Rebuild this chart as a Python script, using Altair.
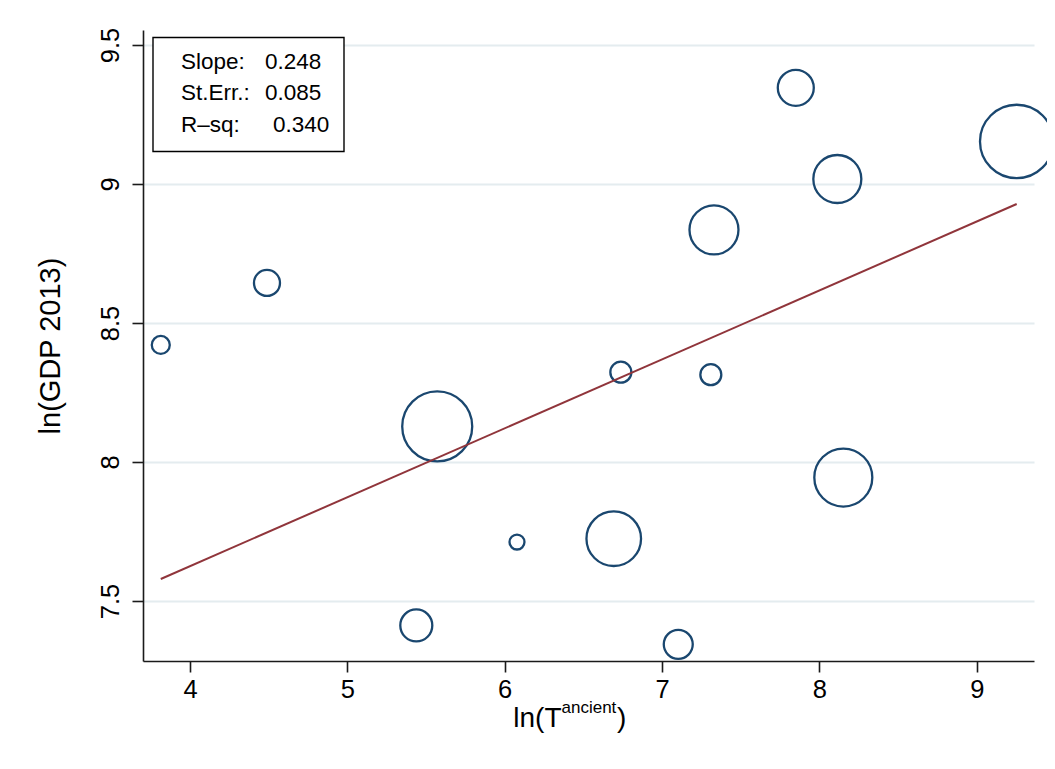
import altair as alt
import pandas as pd

# ---- data ----
ln_t = [3.814, 4.489, 5.571, 6.078, 5.438, 6.693, 6.738, 7.103, 7.310, 7.330, 7.850, 8.114, 8.152, 9.254]
ln_gdp = [8.421, 8.644, 8.128, 7.712, 7.412, 7.724, 8.323, 7.344, 8.314, 8.835, 9.346, 9.018, 7.944, 9.153]
weight = [81, 169, 1225, 56, 256, 745, 110, 210, 110, 600, 324, 576, 841, 1347]
fit_x = [3.814, 9.254]
fit_y = [7.579, 8.928]
x_ticks = [4, 5, 6, 7, 8, 9]
y_ticks = [7.5, 8, 8.5, 9, 9.5]
stat_labels = ["Slope:", "St.Err.:", "R\u2013sq:"]
stat_values = ["0.248", "0.085", "0.340"]

FONT = "Liberation Sans"
NAVY = "#1a476f"
MAROON = "#90353b"
W, H = 891, 631

pts_df = pd.DataFrame({"ln_t": ln_t, "ln_gdp": ln_gdp, "weight": weight})
fit_df = pd.DataFrame({"ln_t": fit_x, "ln_gdp": fit_y})

xs = alt.Scale(domain=[3.701, 9.364], nice=False, zero=False)
ys = alt.Scale(domain=[7.284, 9.554], nice=False, zero=False)

X = alt.X("ln_t:Q", scale=xs, axis=alt.Axis(
    values=x_ticks, title=None, grid=False, tickSize=11, labelPadding=5,
    labelFontSize=25.5, format="d"))
Y = alt.Y("ln_gdp:Q", scale=ys, axis=alt.Axis(
    values=y_ticks, title="ln(GDP 2013)", grid=True, tickSize=11,
    labelPadding=14, labelFontSize=25.5, labelAngle=270, labelAlign="center",
    labelBaseline="alphabetic", format="~g",
    titleFontSize=29, titleFontWeight="normal", titleAngle=270,
    titleAlign="center", titleBaseline="alphabetic", titleX=-84, titleY=H / 2))

points = alt.Chart(pts_df).mark_point(
    shape="circle", filled=False, color=NAVY, strokeWidth=2.3, opacity=1
).encode(
    x=X, y=Y,
    size=alt.Size("weight:Q", scale=alt.Scale(domain=[0, 1500], range=[0, 6000]), legend=None),
)

fit = alt.Chart(fit_df).mark_line(color=MAROON, strokeWidth=2).encode(x=X, y=Y)

one = pd.DataFrame({"k": [0]})

# stats box
box = alt.Chart(one).mark_rect(fill="white", stroke="black", strokeWidth=1.4).encode(
    x=alt.value(10), x2=alt.value(201), y=alt.value(7.5), y2=alt.value(121.5))

stat_layers = []
line_y = [39, 70, 101.5]
val_x = [122, 122, 130]
for i in range(3):
    stat_layers.append(
        alt.Chart(pd.DataFrame({"t": [stat_labels[i]]})).mark_text(
            font=FONT, fontSize=22.5, align="left", baseline="alphabetic", color="black"
        ).encode(text="t:N", x=alt.value(38), y=alt.value(line_y[i])))
    stat_layers.append(
        alt.Chart(pd.DataFrame({"t": [stat_values[i]]})).mark_text(
            font=FONT, fontSize=22.5, align="left", baseline="alphabetic", color="black"
        ).encode(text="t:N", x=alt.value(val_x[i]), y=alt.value(line_y[i])))

# x-axis title with superscript
xt1 = alt.Chart(pd.DataFrame({"t": ["ln(T"]})).mark_text(
    font=FONT, fontSize=28, align="left", baseline="alphabetic", color="black"
).encode(text="t:N", x=alt.value(370.3), y=alt.value(697.3))
xt2 = alt.Chart(pd.DataFrame({"t": ["ancient"]})).mark_text(
    font=FONT, fontSize=17, align="left", baseline="alphabetic", color="black"
).encode(text="t:N", x=alt.value(418.5), y=alt.value(683))
xt3 = alt.Chart(pd.DataFrame({"t": [")"]})).mark_text(
    font=FONT, fontSize=28, align="left", baseline="alphabetic", color="black"
).encode(text="t:N", x=alt.value(474), y=alt.value(697.3))

chart = alt.layer(points, fit, box, *stat_layers, xt1, xt2, xt3).properties(
    width=W, height=H,
    autosize=alt.AutoSizeParams(type="none"),
    padding={"left": 135, "top": 22, "right": 13, "bottom": 99},
    background="white",
).configure_view(stroke=None).configure_axis(
    labelFont=FONT, titleFont=FONT, labelColor="black", titleColor="black",
    domainColor="#1a1a1a", domainWidth=1.6, tickColor="#1a1a1a", tickWidth=1.6,
    gridColor="#e4ecef", gridWidth=1.8, labelOverlap=False,
)

chart.save("out.html", embed_options={"renderer": "svg", "actions": False})
